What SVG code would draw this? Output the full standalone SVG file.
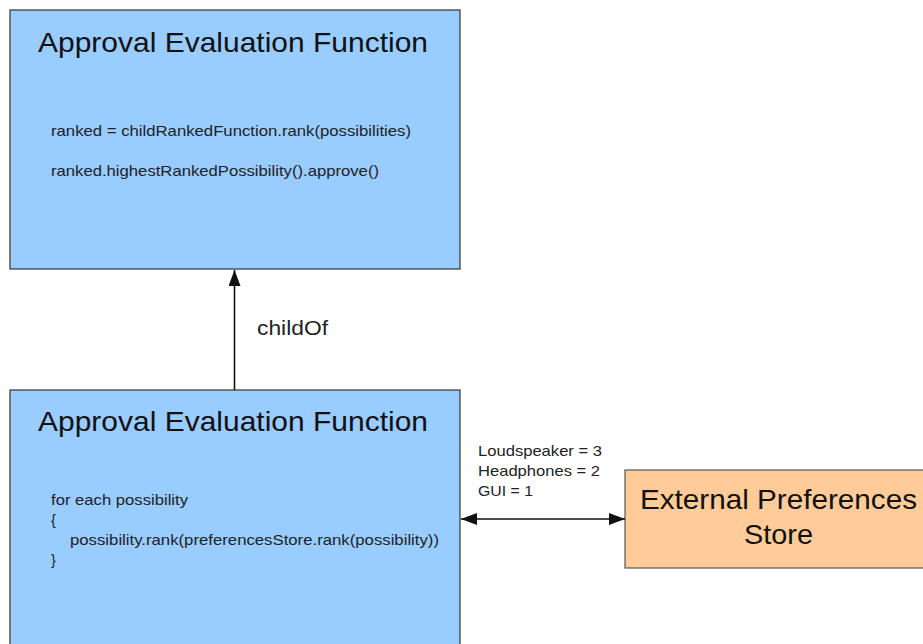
<svg xmlns="http://www.w3.org/2000/svg" width="923" height="644" viewBox="0 0 923 644">
  <style>
    .box { fill: #99ccff; stroke: #333333; stroke-width: 1.2; }
    .ext { fill: #ffcc99; stroke: #555555; stroke-width: 1.2; }
    .title { font-family: "Liberation Sans", Arial, sans-serif; font-size: 28px; fill: #111111; }
    .code { font-family: "Liberation Sans", Arial, sans-serif; font-size: 14.5px; fill: #222222; }
    .lbl { font-family: "Liberation Sans", Arial, sans-serif; font-size: 14.5px; fill: #222222; }
    .edge-lbl { font-family: "Liberation Sans", Arial, sans-serif; font-size: 19.5px; fill: #222222; }
    .conn { stroke: #111111; stroke-width: 1.6; fill: none; }
  </style>
  <defs>
    <marker id="ah" viewBox="0 0 16 12" refX="16" refY="6" markerWidth="16" markerHeight="12" markerUnits="userSpaceOnUse" orient="auto-start-reverse">
      <path d="M0,0 L16,6 L0,12 Z" fill="#111111"/>
    </marker>
  </defs>
  <rect width="923" height="644" fill="#ffffff"/>

  <g id="top-function">
    <rect class="box" x="10" y="10" width="450" height="259"/>
    <text class="title" x="38" y="52" textLength="390" lengthAdjust="spacingAndGlyphs">Approval Evaluation Function</text>
    <text class="code" x="51" y="136" textLength="360" lengthAdjust="spacingAndGlyphs">ranked = childRankedFunction.rank(possibilities)</text>
    <text class="code" x="51" y="176" textLength="328" lengthAdjust="spacingAndGlyphs">ranked.highestRankedPossibility().approve()</text>
  </g>

  <g id="bottom-function">
    <rect class="box" x="10" y="390" width="450" height="270"/>
    <text class="title" x="38" y="431" textLength="390" lengthAdjust="spacingAndGlyphs">Approval Evaluation Function</text>
    <text class="code" x="51" y="505" textLength="137" lengthAdjust="spacingAndGlyphs">for each possibility</text>
    <text class="code" x="51" y="525">{</text>
    <text class="code" x="70" y="545" textLength="369" lengthAdjust="spacingAndGlyphs">possibility.rank(preferencesStore.rank(possibility))</text>
    <text class="code" x="51" y="565">}</text>
  </g>

  <g id="external-store">
    <rect class="ext" x="625" y="470" width="310" height="98"/>
    <text class="title" x="640" y="509" textLength="277" lengthAdjust="spacingAndGlyphs">External Preferences</text>
    <text class="title" x="744" y="544" textLength="69" lengthAdjust="spacingAndGlyphs">Store</text>
  </g>

  <g id="connectors">
    <line class="conn" x1="234.5" y1="390" x2="234.5" y2="270" marker-end="url(#ah)"/>
    <text class="edge-lbl" x="257" y="335" textLength="71" lengthAdjust="spacingAndGlyphs">childOf</text>
    <line class="conn" x1="461" y1="519" x2="625" y2="519" marker-start="url(#ah)" marker-end="url(#ah)"/>
    <text class="lbl" x="478" y="456" textLength="124" lengthAdjust="spacingAndGlyphs">Loudspeaker = 3</text>
    <text class="lbl" x="478" y="476" textLength="122" lengthAdjust="spacingAndGlyphs">Headphones = 2</text>
    <text class="lbl" x="478" y="496" textLength="55" lengthAdjust="spacingAndGlyphs">GUI = 1</text>
  </g>
</svg>
